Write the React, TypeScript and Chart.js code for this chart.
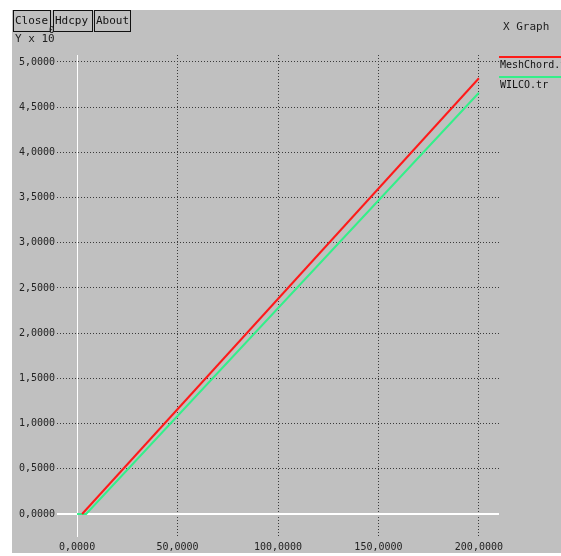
import React, { useEffect, useRef } from "react";
import { Chart, registerables } from "chart.js";

Chart.register(...registerables);

const xTicks = [0, 50, 100, 150, 200];
const yTicks = [0, 0.5, 1, 1.5, 2, 2.5, 3, 3.5, 4, 4.5, 5];
const seriesNames = ["MeshChord.tr", "WILCO.tr"];
const seriesColors = ["#ff1a1a", "#33f08a"];
const meshX = [2.5, 200];
const meshY = [0, 4.82];
const wilcoX = [0, 4.5, 200];
const wilcoY = [0, 0, 4.66];
const buttons = ["Close", "Hdcpy", "About"];

const FONT = "'DejaVu Sans Mono', 'Liberation Mono', monospace";

const fmt = (v: number) => v.toFixed(4).replace(".", ",");

const xgraphPlugin = {
  id: "xgraph",
  beforeDraw(chart: any) {
    const ctx = chart.ctx;
    ctx.save();
    ctx.fillStyle = "#ffffff";
    ctx.fillRect(0, 0, chart.width, chart.height);
    ctx.fillStyle = "#c0c0c0";
    ctx.fillRect(12, 10, chart.width - 12, 543);
    ctx.restore();
  },
  beforeDatasetsDraw(chart: any) {
    const ctx = chart.ctx;
    const a = chart.chartArea;
    const xs = chart.scales.x;
    const ys = chart.scales.y;
    ctx.save();
    ctx.strokeStyle = "#ffffff";
    ctx.lineWidth = 1;
    const x0 = Math.round(xs.getPixelForValue(0)) + 0.5;
    ctx.beginPath();
    ctx.moveTo(x0, a.top);
    ctx.lineTo(x0, a.bottom);
    ctx.stroke();
    ctx.lineWidth = 2;
    const y0 = Math.round(ys.getPixelForValue(0));
    ctx.beginPath();
    ctx.moveTo(a.left, y0);
    ctx.lineTo(a.right, y0);
    ctx.stroke();
    ctx.restore();
  },
  afterDraw(chart: any) {
    const ctx = chart.ctx;
    const a = chart.chartArea;
    ctx.save();
    ctx.font = "11px " + FONT;
    ctx.textBaseline = "middle";
    ctx.fillStyle = "#111";
    ctx.strokeStyle = "#111";
    ctx.lineWidth = 1;
    // buttons
    const bx = [13, 53, 94];
    const bw = [37, 39, 36];
    buttons.forEach((b, i) => {
      ctx.strokeRect(bx[i] + 0.5, 10.5, bw[i], 21);
      ctx.textAlign = "left";
      ctx.fillText(b, bx[i] + 2, 21);
    });
    // Y x 10^0
    ctx.fillStyle = "#222";
    ctx.fillText("Y x 10", 15, 39);
    ctx.font = "9px " + FONT;
    ctx.fillText("0", 49, 31);
    // title
    ctx.font = "11px " + FONT;
    ctx.fillText("X Graph", 503, 27);
    // legend
    const lx = a.right;
    const ly = [57, 77];
    seriesNames.forEach((n, i) => {
      ctx.strokeStyle = seriesColors[i];
      ctx.lineWidth = 2;
      ctx.beginPath();
      ctx.moveTo(lx, ly[i]);
      ctx.lineTo(chart.width, ly[i]);
      ctx.stroke();
      ctx.fillStyle = "#111";
      ctx.font = "10px " + FONT;
      ctx.fillText(n, lx + 1, ly[i] + 8);
    });
    ctx.restore();
  },
};

export default function App() {
  const ref = useRef<HTMLCanvasElement | null>(null);
  useEffect(() => {
    if (!ref.current) return;
    const gridColor = (c: any) =>
      c.tick && c.tick.value === 0 ? "rgba(0,0,0,0)" : "#3a3a3a";
    const chart = new Chart(ref.current, {
      type: "line",
      data: {
        datasets: [
          {
            label: seriesNames[0],
            data: meshX.map((x, i) => ({ x, y: meshY[i] })),
            borderColor: seriesColors[0],
            borderWidth: 2,
            pointRadius: 0,
            fill: false,
          },
          {
            label: seriesNames[1],
            data: wilcoX.map((x, i) => ({ x, y: wilcoY[i] })),
            borderColor: seriesColors[1],
            borderWidth: 2,
            pointRadius: 0,
            fill: false,
          },
        ],
      },
      options: {
        animation: false,
        responsive: false,
        devicePixelRatio: 1,
        layout: { padding: { left: 0, top: 55, right: 62, bottom: 0 } },
        plugins: {
          legend: { display: false },
          tooltip: { enabled: false },
          title: { display: false },
        },
        scales: {
          x: {
            type: "linear",
            min: -10,
            max: 210,
            afterBuildTicks: (s: any) => {
              s.ticks = xTicks.map((v) => ({ value: v }));
            },
            afterFit: (s: any) => {
              s.height = 19;
            },
            ticks: {
              callback: (v: any) => fmt(Number(v)),
              font: { family: FONT, size: 10 },
              color: "#222",
              padding: 4,
              maxRotation: 0,
              autoSkip: false,
            },
            grid: { color: gridColor, drawTicks: false, lineWidth: 1 },
            border: { display: false, dash: [1, 2] },
          },
          y: {
            type: "linear",
            min: -0.254,
            max: 5.077,
            afterBuildTicks: (s: any) => {
              s.ticks = yTicks.map((v) => ({ value: v }));
            },
            afterFit: (s: any) => {
              s.width = 57;
            },
            ticks: {
              callback: (v: any) => fmt(Number(v)),
              font: { family: FONT, size: 10 },
              color: "#222",
              padding: 2,
              autoSkip: false,
            },
            grid: { color: gridColor, drawTicks: false, lineWidth: 1 },
            border: { display: false, dash: [1, 2] },
          },
        },
      },
      plugins: [xgraphPlugin],
    });
    return () => chart.destroy();
  }, []);
  return (
    <div style={{ position: "fixed", left: 0, top: 0, width: 561, height: 556 }}>
      <canvas ref={ref} width={561} height={556} style={{ width: 561, height: 556 }} />
    </div>
  );
}
